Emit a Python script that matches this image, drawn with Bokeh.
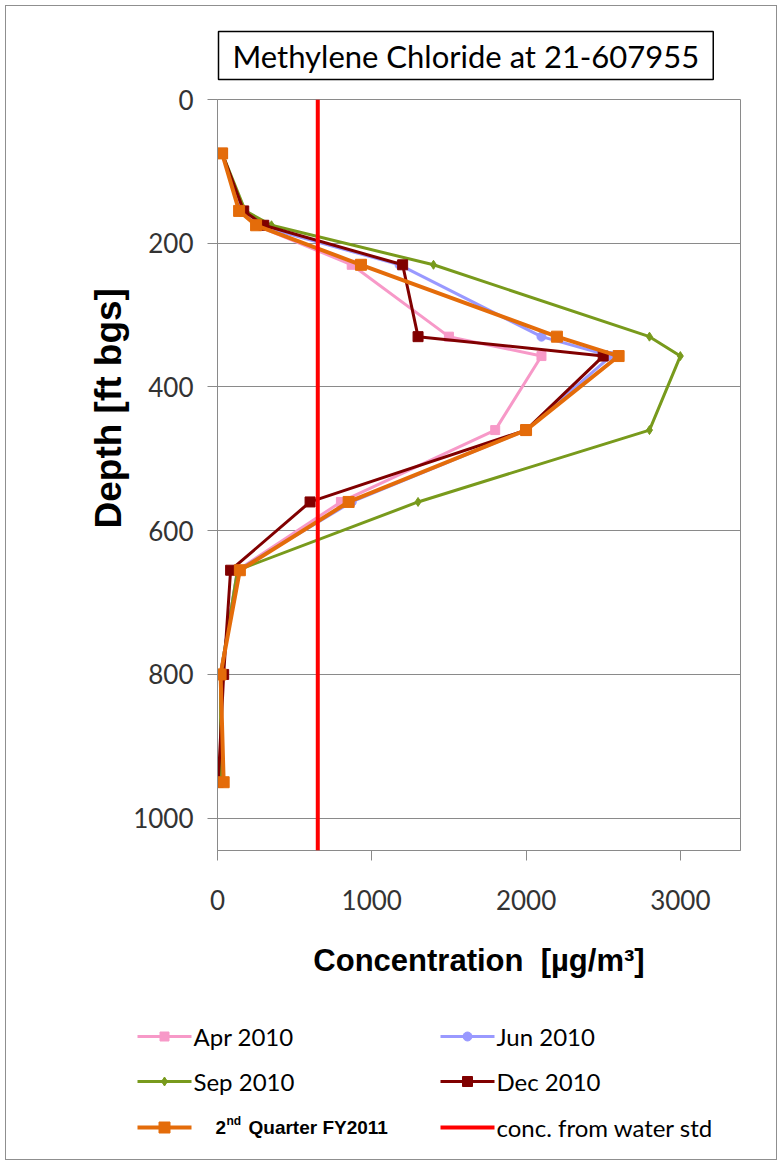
from bokeh.plotting import figure
from bokeh.models import Range1d, FixedTicker, Title, Span
from bokeh.layouts import column
from bokeh.embed import file_html
from bokeh.resources import INLINE
from bokeh.core.properties import value

# ---------------- data ----------------
depth = [75, 155, 175, 230, 330, 357, 460, 560, 655, 800, 950]
apr_2010 = [30, 150, 250, 870, 1500, 2100, 1800, 800, 130, 20, 30]
jun_2010 = [30, 150, 260, 1180, 2100, 2550, 2000, 870, 130, 20, 30]
sep_2010 = [30, 180, 350, 1400, 2800, 3000, 2800, 1300, 130, 20, 20]
dec_2010 = [30, 170, 300, 1200, 1300, 2500, 2000, 600, 85, 40, 5]
q2_fy2011 = [30, 140, 250, 930, 2200, 2600, 2000, 850, 145, 20, 40]
water_std = 650
x_ticks = [0, 1000, 2000, 3000]
y_ticks = [0, 200, 400, 600, 800, 1000]

series = [
    ("Apr 2010", apr_2010, "#F799C8", "square", 9, 3),
    ("Jun 2010", jun_2010, "#9999FF", "circle", 9, 3),
    ("Sep 2010", sep_2010, "#789A1C", "diamond", 9, 3),
    ("Dec 2010", dec_2010, "#800000", "square", 10, 3),
    ("2nd Quarter FY2011", q2_fy2011, "#E46C0A", "square", 11, 4),
]
std_label = "conc. from water std"
std_color = "#FF0000"

GRID = "#8a8a8a"
TXT = "#333333"
NBSP = "\u00a0"

# ---------------- main chart ----------------
p = figure(frame_width=523, frame_height=751,
           x_range=Range1d(0, 3390), y_range=Range1d(1045, 0),
           output_backend="svg", toolbar_location=None,
           min_border_left=211, min_border_right=36,
           min_border_top=93, min_border_bottom=150)
p.frame_align = False
p.background_fill_color = "white"
p.border_fill_color = "white"
p.outline_line_color = GRID

for name, vals, color, marker, size, lw in series:
    p.line(vals, depth, line_color=color, line_width=lw)
    p.scatter(vals, depth, marker=marker, size=size, fill_color=color, line_color=color)

p.add_layout(Span(location=water_std, dimension="height", line_color=std_color, line_width=4))

p.xaxis.ticker = FixedTicker(ticks=x_ticks)
p.yaxis.ticker = FixedTicker(ticks=y_ticks)
p.xgrid.visible = False
p.ygrid.ticker = FixedTicker(ticks=y_ticks)
p.ygrid.grid_line_color = GRID
p.ygrid.grid_line_width = 1

for ax in (p.xaxis[0], p.yaxis[0]):
    ax.axis_line_color = GRID
    ax.major_tick_line_color = GRID
    ax.major_tick_out = 10
    ax.major_tick_in = 0
    ax.minor_tick_line_color = None
    ax.major_label_text_font = "Lato"
    ax.major_label_text_font_size = "26px"
    ax.major_label_text_color = TXT

p.yaxis.major_label_standoff = 14
p.xaxis.major_label_standoff = 29

p.xaxis.axis_label = "Concentration" + NBSP + NBSP + "[\u00b5g/m\u00b3]"
p.xaxis.axis_label_text_font = "Liberation Sans"
p.xaxis.axis_label_text_font_size = "31px"
p.xaxis.axis_label_text_font_style = "bold"
p.xaxis.axis_label_text_color = "black"
p.xaxis.axis_label_standoff = 30

p.title = Title(text="Methylene Chloride at 21-607955", align="left", offset=1,
                text_font="Lato", text_font_size="31px", text_font_style="normal",
                text_color="black", border_line_color="black", border_line_width=1.5,
                background_fill_color="white", padding=(14, 5), standoff=40)

p.add_layout(Title(text="Depth [ft bgs]", align="left", offset=322,
                   text_font="Liberation Sans", text_font_size="37px",
                   text_font_style="bold", text_color="black", standoff=3), "left")

# ---------------- legend panel ----------------
LW, LH = 770, 159
lg = figure(width=LW, height=LH, x_range=Range1d(0, LW), y_range=Range1d(LH, 0),
            output_backend="svg", toolbar_location=None,
            min_border=0, x_axis_location=None, y_axis_location=None)
lg.frame_align = False
lg.xgrid.visible = False
lg.ygrid.visible = False
lg.outline_line_color = None
lg.background_fill_color = "white"
lg.border_fill_color = "white"

col_x = [131, 434]
row_y = [36, 81, 127]
seg_len = 54
slots = [(0, 0), (1, 0), (0, 1), (1, 1), (0, 2)]
for (name, vals, color, marker, size, lw), (c, r) in zip(series, slots):
    x0 = col_x[c]
    y0 = row_y[r]
    lg.line([x0, x0 + seg_len], [y0, y0], line_color=color, line_width=lw)
    lg.scatter([x0 + seg_len / 2], [y0], marker=marker, size=size, fill_color=color, line_color=color)
    if name.startswith("2nd"):
        lg.text([x0 + 78], [y0], text=["2"], text_font=value("Liberation Sans"),
                text_font_size="19px", text_font_style="bold", text_color="black",
                text_baseline="middle")
        lg.text([x0 + 89], [y0 - 7], text=["nd"], text_font=value("Liberation Sans"),
                text_font_size="12px", text_font_style="bold", text_color="black",
                text_baseline="middle")
        lg.text([x0 + 111], [y0], text=["Quarter FY2011"], text_font=value("Liberation Sans"),
                text_font_size="19px", text_font_style="bold", text_color="black",
                text_baseline="middle")
    else:
        lg.text([x0 + seg_len + 2], [y0], text=[name], text_font=value("Lato"),
                text_font_size="24px", text_color="black", text_baseline="middle")

x0 = col_x[1]
y0 = row_y[2]
lg.line([x0, x0 + seg_len], [y0, y0], line_color=std_color, line_width=4)
lg.text([x0 + seg_len + 2], [y0], text=[std_label], text_font=value("Lato"),
        text_font_size="24px", text_color="black", text_baseline="middle")

layout = column(p, lg, margin=(5, 0, 0, 5), styles={"border": "1px solid #8f8f8f"})

with open("out.html", "w") as f:
    f.write(file_html(layout, INLINE))
